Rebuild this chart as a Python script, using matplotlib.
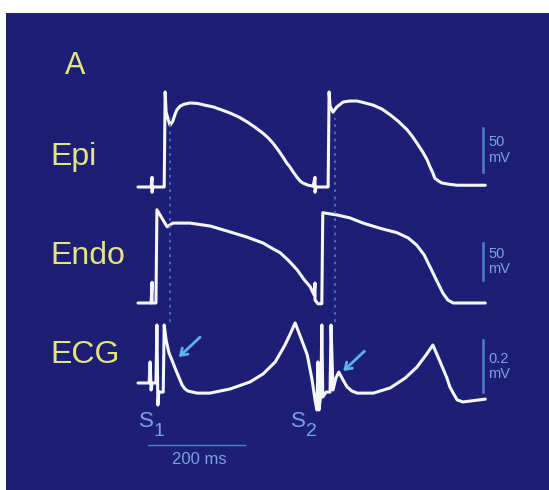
import matplotlib
matplotlib.use('Agg')
import matplotlib.pyplot as plt
from matplotlib.patches import Rectangle

plt.rcParams['font.family'] = ['Liberation Sans', 'DejaVu Sans']

# ---------------- data ----------------
# Epicardial action potentials: time (ms), membrane potential (mV)
epi_t = [0, 27, 29, 29, 31, 54, 56, 58, 66, 72, 76, 80, 87, 95, 107, 122, 138, 155, 173, 190,
         208, 225, 241, 258, 268, 278, 289, 299, 307, 313, 320, 328, 334, 340, 351, 361, 365,
         365, 367, 392, 394, 396, 402, 410, 423, 437, 452, 468, 485, 503, 520, 536, 555, 565,
         575, 588, 596, 602, 608, 612, 619, 627, 643, 658, 716]
epi_v = [-85, -85, -74, -91, -85, -85, 23, 0, -15, -10, -3, 2.5, 7, 9, 10.5, 10, 8, 6, 2.5, -1,
         -5.5, -11, -17, -24, -29, -35, -43, -51, -58, -62, -68, -74, -78, -80.5, -83, -84, -74,
         -91, -85, -85, 23, 7, 0, 6, 11.6, 12.7, 12.7, 10.5, 8, 3.6, -3, -10, -20, -27,
         -35, -46, -54, -62, -69, -75, -78, -80.5, -82, -83, -83]

# Endocardial action potentials: time (ms), membrane potential (mV)
endo_t = [0, 27, 29, 29, 37, 39, 60, 72, 107, 149, 190, 225, 258, 276, 293, 311, 328, 342, 355,
          363, 365, 365, 371, 379, 381, 410, 437, 464, 499, 534, 557, 575, 590, 602, 616, 629,
          639, 650, 716]
endo_v = [-85, -85, -57, -85, -85, 41, 18, 23, 23, 19, 11, 4, -4, -11, -17, -28, -40, -53, -63,
          -74, -58, -81, -86, -86, 37, 34, 30, 23, 16, 10, 3, -7, -20, -36, -55, -72,
          -81, -85, -85]

# Transmural ECG: time (ms), amplitude (mV)
ecg_t = [0, 23, 25, 27, 29, 37, 39, 41, 43, 52, 54, 58, 64, 70, 78, 85, 91, 97, 103, 122, 148,
         190, 231, 258, 283, 303, 313, 324, 336, 349, 359, 365, 369, 371, 373, 377, 379, 381,
         388, 396, 398, 402, 408, 414, 423, 431, 441, 452, 485, 520, 551, 575, 594, 608, 623,
         637, 643, 650, 658, 670, 716]
ecg_v = [0.027, 0.027, 0.108, 0.0, 0.027, 0.027, 0.25, -0.058, -0.008, -0.008, 0.25, 0.192,
         0.142, 0.115, 0.077, 0.046, 0.019, 0.004, -0.004, -0.012, -0.012, 0.004, 0.031, 0.062,
         0.108, 0.173, 0.212, 0.258, 0.2, 0.135, 0.038, -0.038, -0.077, 0.108, -0.077, -0.019,
         0.25, -0.027, -0.008, -0.008, 0.25, 0.0, 0.046, 0.069, 0.038, 0.012, -0.004, -0.012,
         -0.012, 0.008, 0.046, 0.088, 0.135, 0.173, 0.108, 0.046, 0.012, -0.012, -0.038,
         -0.046, -0.035]

row_labels = ['Epi', 'Endo', 'ECG']
scale_values = [50, 50, 0.2]
scale_texts = ['50\nmV', '50\nmV', '0.2\nmV']
scale_bottoms = [-68, -54, -0.008]
time_bar_ms = 200
time_bar_text = '200 ms'
stim_names = ['S', 'S']
stim_subs = ['1', '2']
notch_times = [67, 406]          # dotted reference lines (ms)
arrow_times = [82, 421]          # arrow tips on ECG (ms)
arrow_vals = [0.123, 0.069]
panel_letter = 'A'

# ---------------- layout ----------------
W, H = 549, 490
BG = '#1d1f76'
TRACE = '#f6f6f6'
YEL = '#e6e57c'
LBLUE = '#7aa2e0'
BAR = '#4f7fd0'
ARROW = '#5bb3ea'

fig = plt.figure(figsize=(W / 100, H / 100), dpi=100)
fig.patch.set_facecolor('white')
fig.patches.append(Rectangle((6 / W, 0), 1, 1 - 13 / H, transform=fig.transFigure,
                             facecolor=BG, edgecolor='none', zorder=-5))

px_per_ms = 0.485
x0_px = 138
tmin = -x0_px / px_per_ms
tmax = (W - x0_px) / px_per_ms

# (pixel y of reference value, reference value, pixels per unit)
calib = [(187, -85, 0.88), (303, -85, 0.74), (390, 0.0, 260.0)]


def make_ax(c):
    ypx, ref, ppu = c
    ax = fig.add_axes([0, 0, 1, 1])
    ax.set_xlim(tmin, tmax)
    ax.set_ylim(ref - (H - ypx) / ppu, ref + ypx / ppu)
    ax.patch.set_alpha(0)
    ax.axis('off')
    return ax


axes = [make_ax(c) for c in calib]
traces = [(epi_t, epi_v), (endo_t, endo_v), (ecg_t, ecg_v)]

for ax, (t, v) in zip(axes, traces):
    ax.plot(t, v, color=TRACE, lw=2.2, solid_joinstyle='round', solid_capstyle='round', zorder=3)

# scale bars
bar_t = 711
for ax, val, txt, b in zip(axes, scale_values, scale_texts, scale_bottoms):
    ax.plot([bar_t, bar_t], [b, b + val], color=BAR, lw=1.8, zorder=3)
    ax.text(bar_t + 11, b + val / 2, txt, color=LBLUE, fontsize=10.5, ha='left', va='center',
            linespacing=1.1)

# dotted reference lines
ecg_ax = axes[2]
for tn in notch_times:
    ecg_ax.axvline(tn, ymin=1 - 322 / H, ymax=1 - 118 / H, color='#4f6fc8', lw=1.3,
                   ls=(0, (1.5, 2.5)), zorder=2)

# arrows
for ta, va in zip(arrow_times, arrow_vals):
    ecg_ax.annotate('', xy=(ta, va), xytext=(16, 15), textcoords='offset points',
                    arrowprops=dict(arrowstyle='->,head_length=0.45,head_width=0.3',
                                    color=ARROW, lw=2.0, shrinkA=0, shrinkB=1), zorder=4)

# time bar
tb_v = (390 - 445) / 260.0
ecg_ax.plot([21, 21 + time_bar_ms], [tb_v, tb_v], color=BAR, lw=1.0)
fig.text(199 / W, 1 - 459 / H, time_bar_text, color=LBLUE, fontsize=12, ha='center', va='center')

# stimulus labels
for name, sub, (sx, dx) in zip(stim_names, stim_subs, [(146, 159), (298, 311)]):
    fig.text(sx / W, 1 - 421 / H, name, color=LBLUE, fontsize=16, ha='center', va='center')
    fig.text(dx / W, 1 - 431 / H, sub, color=LBLUE, fontsize=14, ha='center', va='center')

# row labels and panel letter
fig.text(75 / W, 1 - 66 / H, panel_letter, color=YEL, fontsize=22, ha='center', va='center')
for lab, yc in zip(row_labels, [157, 256, 355]):
    fig.text(50 / W, 1 - yc / H, lab, color=YEL, fontsize=23, ha='left', va='center')

fig.savefig('out.png', dpi=100, facecolor=fig.get_facecolor())
